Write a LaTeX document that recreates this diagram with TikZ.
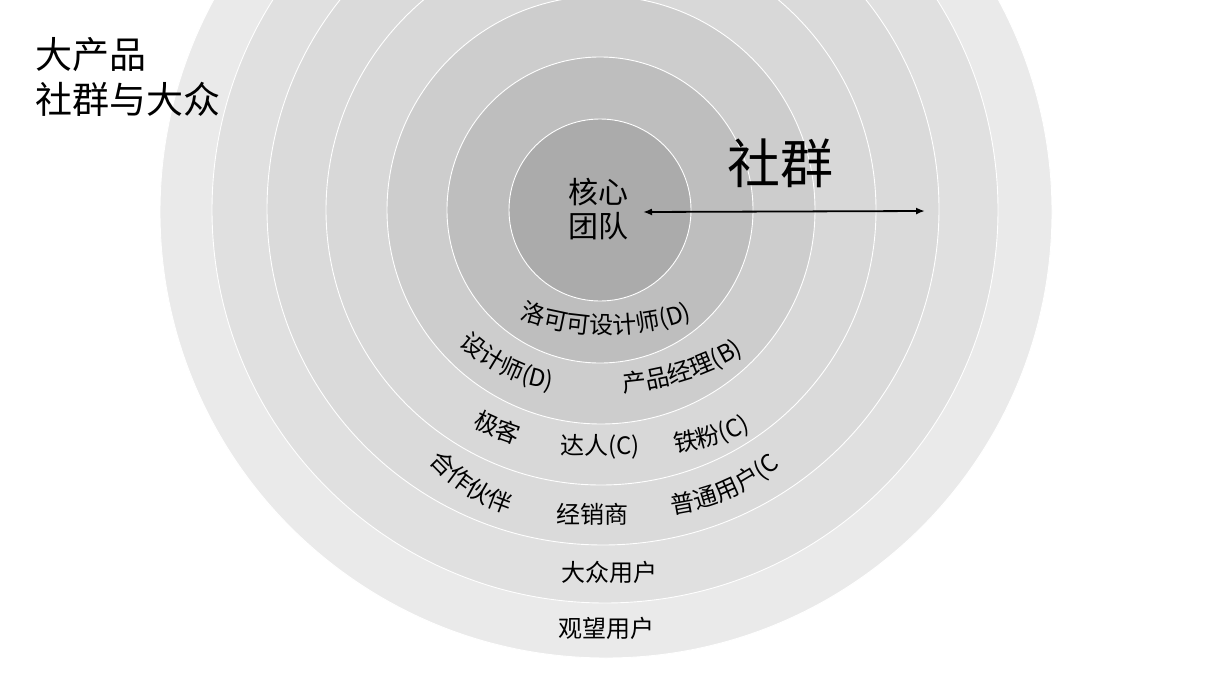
\documentclass[tikz,border=0pt]{standalone}
\usepackage{fontspec}
\usetikzlibrary{arrows.meta,decorations.text}
\newfontfamily\cjk{Noto Sans CJK SC}
\newcommand\lbl{\cjk\fontsize{24}{24}\selectfont}
\definecolor{ring7}{HTML}{EAEAEA}
\definecolor{ring6}{HTML}{E0E0E0}
\definecolor{ring5}{HTML}{DADADA}
\definecolor{ring4}{HTML}{D8D8D8}
\definecolor{ring3}{HTML}{CDCDCD}
\definecolor{ring2}{HTML}{BEBEBE}
\definecolor{ring1}{HTML}{ABABAB}
\newcommand\arclabel[5]{%
  \pgfmathsetmacro\alphi{(150/#4)*57.2958}%
  \pgfmathsetmacro\aox{#1-#4*sin(#3)}%
  \pgfmathsetmacro\aoy{-#2+#4*cos(#3)}%
  \pgfmathsetmacro\asa{#3-90-\alphi}%
  \pgfmathsetmacro\aea{#3-90+\alphi}%
  \path[decorate,decoration={text along path,text align=center,text={|\lbl|#5}}]
    ([shift={(\asa:#4)}]\aox,\aoy) arc[start angle=\asa,end angle=\aea,radius=#4];}
\tikzset{
  ring/.style={draw=white,line width=0.9pt},
  flat/.style={font=\lbl,inner sep=0pt,text=black},
}
\begin{document}
\begin{tikzpicture}[x=1pt,y=1pt]
\useasboundingbox (0,0) rectangle (1210,-680);
\fill[white] (0,0) rectangle (1210,-680);
\clip (0,0) rectangle (1210,-680);
\fill[ring7,ring] (606,-212) circle[radius=446];
\fill[ring6,ring] (605,-210) circle[radius=393];
\fill[ring5,ring] (603,-209) circle[radius=336];
\fill[ring4,ring] (601,-210) circle[radius=275];
\fill[ring3,ring] (601,-210) circle[radius=214];
\fill[ring2,ring] (600,-210) circle[radius=153];
\fill[ring1,ring] (600,-210) circle[radius=91];
% title
\node[font=\cjk\fontsize{37}{45}\selectfont,align=left,anchor=west,inner sep=0pt] (title) at (35,-76.5) {大产品\\社群与大众};
% core
\node[font=\cjk\fontsize{30}{34}\selectfont,align=center,inner sep=0pt] (core) at (598,-209) {核心\\团队};
\node[font=\cjk\fontsize{53}{53}\selectfont,inner sep=0pt] (community) at (780,-163) {社群};
\coordinate (arrL) at (643,-212);
\coordinate (arrR) at (925,-211);
\draw[line width=1.8pt,{Latex[length=9pt,width=7pt]}-{Latex[length=9pt,width=7pt]}] (arrL) -- (arrR);
% curved labels
\arclabel{606}{334}{0}{250}{洛可可设计师(D)}
\arclabel{502}{374}{-26}{175}{设计师(D)}
\arclabel{686}{380}{18}{260}{产品经理(B)}
\arclabel{494}{436}{-22}{300}{极客}
\arclabel{714}{444}{16}{250}{铁粉(C)}
\arclabel{465}{493}{-33}{170}{合作伙伴}
\arclabel{730}{498}{24}{200}{普通用户(C}
% straight labels
\node[flat] (daren) at (600,-447) {达人(C)};
\node[flat] (jxs) at (592,-514) {经销商};
\node[flat] (dzyh) at (609,-572) {大众用户};
\node[flat] (gwyh) at (606,-628) {观望用户};
\end{tikzpicture}
\end{document}
